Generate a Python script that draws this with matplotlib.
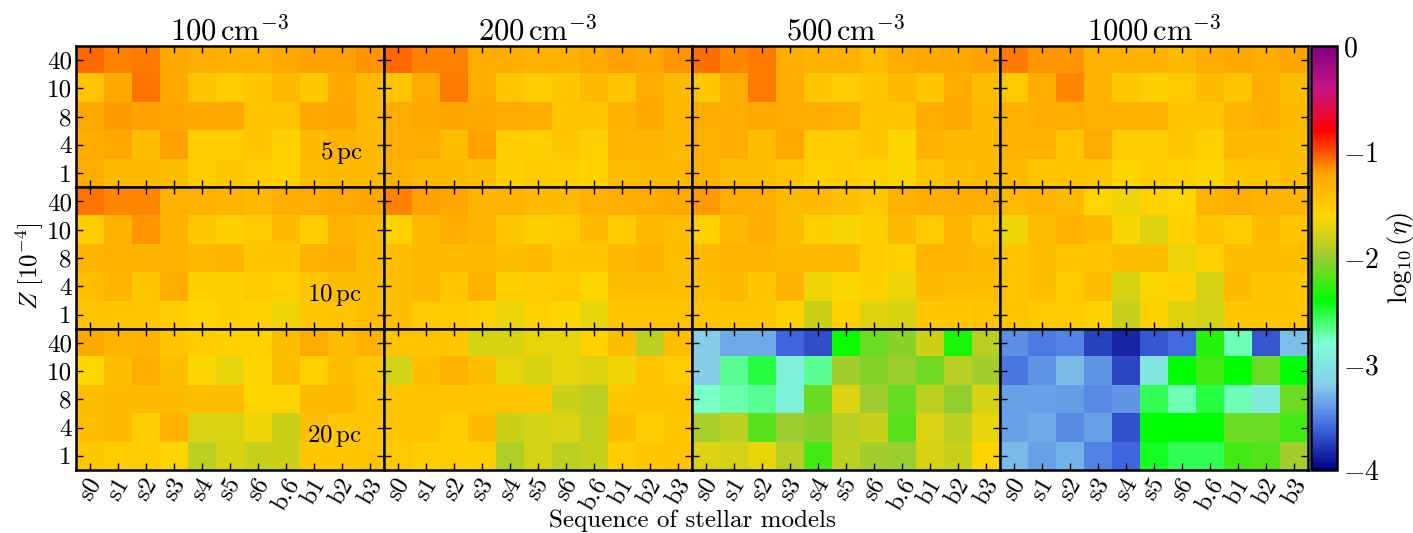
import numpy as np
import matplotlib
matplotlib.use('Agg')
import matplotlib.pyplot as plt
from matplotlib.colors import LinearSegmentedColormap

plt.rcParams['font.family'] = 'serif'
plt.rcParams['font.serif'] = ['cmr10']
plt.rcParams['mathtext.fontset'] = 'cm'
plt.rcParams['axes.unicode_minus'] = False
plt.rcParams['axes.formatter.use_mathtext'] = True

########################################################################################################################
## data: log10(eta), rows top -> bottom are Z = 40, 10, 8, 4, 1 (x 1e-4)
########################################################################################################################
models = ['s0', 's1', 's2', 's3', 's4', 's5', 's6', 'b.6', 'b1', 'b2', 'b3']
metallicities = ['40', '10', '8', '4', '1']
densities = ['100', '200', '500', '1000']
radii = ['5', '10', '20']

eta_5pc_100 = [[-1.06, -1.11, -1.10, -1.24, -1.28, -1.32, -1.32, -1.25, -1.19, -1.20, -1.16],
               [-1.44, -1.24, -1.08, -1.24, -1.44, -1.52, -1.48, -1.36, -1.48, -1.24, -1.36],
               [-1.24, -1.18, -1.20, -1.22, -1.24, -1.24, -1.44, -1.44, -1.24, -1.22, -1.36],
               [-1.28, -1.24, -1.40, -1.20, -1.52, -1.52, -1.48, -1.56, -1.36, -1.32, -1.36],
               [-1.28, -1.36, -1.36, -1.40, -1.52, -1.48, -1.52, -1.56, -1.40, -1.36, -1.36]]
eta_5pc_200 = [[-1.06, -1.12, -1.11, -1.26, -1.28, -1.30, -1.32, -1.24, -1.20, -1.22, -1.17],
               [-1.46, -1.26, -1.10, -1.26, -1.46, -1.52, -1.48, -1.36, -1.44, -1.26, -1.38],
               [-1.26, -1.24, -1.22, -1.24, -1.26, -1.26, -1.44, -1.44, -1.32, -1.24, -1.36],
               [-1.28, -1.26, -1.42, -1.20, -1.52, -1.54, -1.48, -1.56, -1.34, -1.34, -1.38],
               [-1.30, -1.36, -1.36, -1.42, -1.54, -1.50, -1.52, -1.56, -1.40, -1.38, -1.36]]
eta_5pc_500 = [[-1.07, -1.13, -1.10, -1.28, -1.30, -1.30, -1.40, -1.26, -1.24, -1.24, -1.20],
               [-1.48, -1.26, -1.10, -1.28, -1.46, -1.52, -1.48, -1.36, -1.46, -1.26, -1.40],
               [-1.28, -1.26, -1.24, -1.26, -1.28, -1.30, -1.46, -1.44, -1.28, -1.24, -1.36],
               [-1.30, -1.28, -1.42, -1.24, -1.52, -1.52, -1.48, -1.58, -1.32, -1.36, -1.38],
               [-1.32, -1.40, -1.40, -1.44, -1.56, -1.52, -1.56, -1.62, -1.44, -1.42, -1.38]]
eta_5pc_1000 = [[-1.10, -1.16, -1.16, -1.30, -1.32, -1.32, -1.36, -1.26, -1.24, -1.26, -1.22],
                [-1.50, -1.28, -1.14, -1.30, -1.48, -1.54, -1.50, -1.38, -1.44, -1.28, -1.40],
                [-1.30, -1.28, -1.26, -1.30, -1.32, -1.32, -1.46, -1.44, -1.34, -1.28, -1.38],
                [-1.32, -1.30, -1.44, -1.26, -1.52, -1.52, -1.48, -1.56, -1.36, -1.38, -1.40],
                [-1.36, -1.44, -1.44, -1.46, -1.58, -1.52, -1.56, -1.62, -1.46, -1.44, -1.40]]

eta_10pc_100 = [[-1.08, -1.14, -1.14, -1.30, -1.32, -1.34, -1.36, -1.28, -1.26, -1.24, -1.22],
                [-1.52, -1.32, -1.16, -1.32, -1.48, -1.54, -1.50, -1.38, -1.52, -1.32, -1.38],
                [-1.34, -1.32, -1.32, -1.32, -1.36, -1.34, -1.46, -1.46, -1.30, -1.26, -1.38],
                [-1.40, -1.34, -1.48, -1.28, -1.54, -1.54, -1.50, -1.56, -1.46, -1.40, -1.42],
                [-1.44, -1.48, -1.48, -1.52, -1.58, -1.54, -1.56, -1.66, -1.48, -1.44, -1.42]]
eta_10pc_200 = [[-1.12, -1.20, -1.22, -1.34, -1.34, -1.36, -1.38, -1.30, -1.28, -1.26, -1.24],
                [-1.56, -1.36, -1.26, -1.34, -1.48, -1.54, -1.50, -1.38, -1.50, -1.36, -1.40],
                [-1.40, -1.36, -1.38, -1.36, -1.40, -1.38, -1.48, -1.46, -1.36, -1.32, -1.40],
                [-1.40, -1.36, -1.48, -1.32, -1.54, -1.52, -1.50, -1.58, -1.40, -1.42, -1.42],
                [-1.42, -1.50, -1.50, -1.56, -1.68, -1.56, -1.60, -1.70, -1.48, -1.46, -1.44]]
eta_10pc_500 = [[-1.18, -1.26, -1.26, -1.38, -1.36, -1.42, -1.48, -1.30, -1.28, -1.28, -1.28],
                [-1.56, -1.36, -1.28, -1.40, -1.54, -1.64, -1.54, -1.38, -1.50, -1.34, -1.44],
                [-1.36, -1.34, -1.34, -1.38, -1.36, -1.36, -1.52, -1.56, -1.34, -1.34, -1.38],
                [-1.40, -1.36, -1.48, -1.32, -1.66, -1.60, -1.54, -1.68, -1.38, -1.42, -1.42],
                [-1.44, -1.48, -1.48, -1.56, -1.80, -1.56, -1.72, -1.76, -1.48, -1.48, -1.44]]
eta_10pc_1000 = [[-1.36, -1.34, -1.38, -1.58, -1.66, -1.56, -1.60, -1.34, -1.28, -1.32, -1.34],
                 [-1.66, -1.42, -1.32, -1.38, -1.64, -1.72, -1.56, -1.46, -1.52, -1.38, -1.44],
                 [-1.44, -1.42, -1.44, -1.46, -1.42, -1.40, -1.68, -1.56, -1.40, -1.40, -1.42],
                 [-1.44, -1.42, -1.50, -1.40, -1.76, -1.62, -1.56, -1.76, -1.38, -1.46, -1.48],
                 [-1.46, -1.50, -1.50, -1.56, -1.82, -1.56, -1.72, -1.78, -1.48, -1.48, -1.46]]

eta_20pc_100 = [[-1.24, -1.34, -1.32, -1.48, -1.52, -1.56, -1.56, -1.40, -1.26, -1.42, -1.30],
                [-1.60, -1.40, -1.28, -1.40, -1.62, -1.70, -1.58, -1.40, -1.56, -1.42, -1.48],
                [-1.40, -1.38, -1.38, -1.38, -1.40, -1.40, -1.58, -1.58, -1.38, -1.36, -1.44],
                [-1.42, -1.38, -1.52, -1.32, -1.74, -1.74, -1.66, -1.80, -1.42, -1.48, -1.46],
                [-1.48, -1.52, -1.52, -1.62, -1.86, -1.76, -1.82, -1.80, -1.48, -1.48, -1.46]]
eta_20pc_200 = [[-1.44, -1.44, -1.48, -1.76, -1.76, -1.70, -1.70, -1.56, -1.42, -1.86, -1.42],
                [-1.78, -1.42, -1.30, -1.42, -1.70, -1.76, -1.70, -1.72, -1.66, -1.44, -1.52],
                [-1.46, -1.44, -1.44, -1.46, -1.46, -1.48, -1.80, -1.86, -1.48, -1.46, -1.46],
                [-1.46, -1.44, -1.52, -1.38, -1.80, -1.78, -1.74, -1.84, -1.42, -1.52, -1.48],
                [-1.50, -1.52, -1.52, -1.54, -1.92, -1.78, -1.86, -1.82, -1.52, -1.48, -1.46]]
eta_20pc_500 = [[-3.20, -3.34, -3.34, -3.60, -3.70, -2.36, -2.11, -2.04, -1.80, -2.34, -1.88],
                [-3.20, -2.68, -2.52, -2.90, -2.68, -1.96, -2.06, -2.00, -2.10, -1.88, -1.96],
                [-2.78, -2.72, -2.68, -2.92, -2.14, -1.74, -1.98, -2.14, -1.86, -2.02, -1.76],
                [-1.94, -1.86, -2.16, -2.00, -2.04, -1.88, -1.82, -2.16, -1.74, -1.86, -1.70],
                [-1.74, -1.78, -1.70, -1.88, -2.22, -1.86, -1.96, -2.00, -1.76, -1.82, -1.58]]
eta_20pc_1000 = [[-3.44, -3.52, -3.50, -3.75, -3.85, -3.66, -3.58, -2.30, -2.74, -3.66, -3.26],
                 [-3.54, -3.42, -3.28, -3.42, -3.72, -3.00, -2.40, -2.22, -2.40, -2.12, -2.40],
                 [-3.36, -3.36, -3.38, -3.46, -3.42, -2.56, -2.74, -2.52, -2.74, -2.95, -2.12],
                 [-3.36, -3.34, -3.46, -3.36, -3.68, -2.40, -2.40, -2.40, -2.12, -2.12, -2.22],
                 [-3.28, -3.36, -3.30, -3.50, -3.60, -2.46, -2.56, -2.56, -2.22, -2.18, -1.96]]

panels = [[eta_5pc_100, eta_5pc_200, eta_5pc_500, eta_5pc_1000],
          [eta_10pc_100, eta_10pc_200, eta_10pc_500, eta_10pc_1000],
          [eta_20pc_100, eta_20pc_200, eta_20pc_500, eta_20pc_1000]]

cmap = LinearSegmentedColormap.from_list(
    'eta', ['navy', 'royalblue', 'skyblue', 'aquamarine', 'lime', 'yellowgreen',
            'gold', 'orange', 'red', 'mediumvioletred', 'purple'])

########################################################################################################################

fig = plt.figure(figsize=(14.13, 5.33), dpi=100)

left, right = 76 / 1413., 1308 / 1413.
top, bottom = 1 - 46 / 533., 1 - 470 / 533.
pw = (right - left) / 4.
ph = (top - bottom) / 3.

for i in range(3):
    for j in range(4):
        ax = fig.add_axes([left + j * pw, top - (i + 1) * ph, pw, ph])
        im = ax.imshow(np.array(panels[i][j]), cmap=cmap, vmin=-4, vmax=0,
                       aspect='auto', interpolation='nearest')
        ax.set_xticks(np.arange(len(models)))
        ax.set_yticks(np.arange(len(metallicities)))
        ax.tick_params(direction='in', top=True, right=True, length=5, width=1, labelsize=18, pad=3)
        for s in ax.spines.values():
            s.set_linewidth(1.8)
        if j == 0:
            ax.set_yticklabels(metallicities)
            ax.text(0.93, 0.24, radii[i] + r'$\,$pc', transform=ax.transAxes,
                    ha='right', va='center', fontsize=18)
        else:
            ax.set_yticklabels([])
        if i == 2:
            ax.set_xticklabels(models, rotation=60, ha='center', va='top')
        else:
            ax.set_xticklabels([])
        if i == 0:
            ax.set_title(densities[j] + r'$\,\mathrm{cm}^{-3}$', fontsize=22, pad=3)

cax = fig.add_axes([1311 / 1413., bottom, 26 / 1413., top - bottom])
cb = fig.colorbar(im, cax=cax, ticks=[-4, -3, -2, -1, 0])
cb.ax.tick_params(labelsize=20, direction='in', length=0, pad=4)
cb.outline.set_linewidth(1.8)
cb.set_label(r'$\log_{10}(\eta)$', fontsize=19, labelpad=4)

fig.text(30 / 1413., 0.5, r'$Z\ [10^{-4}]$', rotation=90, ha='center', va='center', fontsize=18)
fig.text((left + right) / 2, 1 - 521 / 533., 'Sequence of stellar models',
         ha='center', va='center', fontsize=18)

fig.savefig('out.png', dpi=100)
